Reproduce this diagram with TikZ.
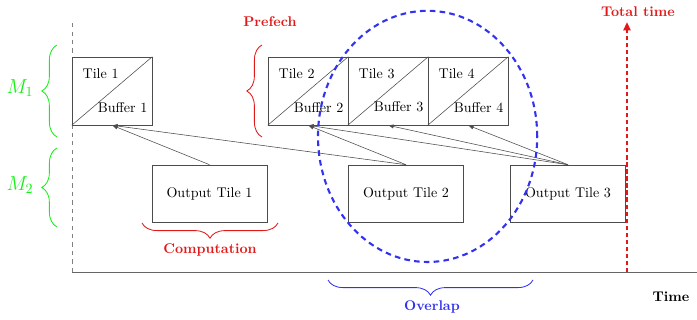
\documentclass[tikz,border=0pt]{standalone}
\usepackage{amsmath, amssymb}
\usetikzlibrary{decorations.pathreplacing, arrows.meta}

\definecolor{memgreen}{RGB}{20,240,20}
\definecolor{timered}{RGB}{225,25,25}
\definecolor{overblue}{RGB}{50,50,240}

\begin{document}
\begin{tikzpicture}
            [tile/.style={draw=black!70,rectangle,minimum width=2cm,minimum height=1.7cm,inner sep=0},
             outtile/.style={draw=black!70,rectangle,minimum width=2.875cm,minimum height=1.425cm},
             fetch/.style={-{Latex[length=4pt,width=3pt]}, black!70},
             brc/.style={decorate, decoration={brace,amplitude=0.38cm}, semithick},
             lbl/.style={font=\bfseries}]

            \useasboundingbox (0,0) rectangle (17.425,8);

            % axes
            \coordinate (orig) at (1.8,1.2);
            \coordinate (ytop) at (1.8,7.45);
            \coordinate (xend) at (17.425,1.2);
            \draw[black!50, dashed, semithick] (orig) -- (ytop);
            \draw[black!60] (orig) -- (xend);

            % input tiles
            \node[tile] (t1) at (2.8, 5.725) {};
            \node[tile] (t2) at (7.7, 5.725) {};
            \node[tile] (t3) at (9.7, 5.725) {};
            \node[tile] (t4) at (11.7, 5.725) {};

            \draw[black!70] (t1.south west) -- (t1.north east);
            \draw[black!70] (t2.south west) -- (t2.north east);
            \draw[black!70] (t3.south west) -- (t3.north east);
            \draw[black!70] (t4.south west) -- (t4.north east);

            \node[anchor=north west] (l1) at ([shift={(0.15,-0.175)}]t1.north west) {Tile 1};
            \node[anchor=north west] (l2) at ([shift={(0.15,-0.175)}]t2.north west) {Tile 2};
            \node[anchor=north west] (l3) at ([shift={(0.15,-0.175)}]t3.north west) {Tile 3};
            \node[anchor=north west] (l4) at ([shift={(0.15,-0.175)}]t4.north west) {Tile 4};

            \node[anchor=south east] (b1) at ([yshift=0.2cm]t1.south east) {Buffer 1};
            \node[anchor=south east] (b2) at ([yshift=0.2cm]t2.south east) {Buffer 2};
            \node[anchor=south east] (b3) at ([yshift=0.2cm]t3.south east) {Buffer 3};
            \node[anchor=south east] (b4) at ([yshift=0.2cm]t4.south east) {Buffer 4};

            % output tiles
            \node[outtile] (o1) at (5.2375, 3.1625) {Output Tile 1};
            \node[outtile] (o2) at (10.15, 3.1625) {Output Tile 2};
            \node[outtile] (o3) at (14.2, 3.1625) {Output Tile 3};

            \draw[fetch] (o1.north) -- (t1.south);
            \draw[fetch] (o2.north) -- (t1.south);
            \draw[fetch] (o2.north) -- (t2.south);
            \draw[fetch] (o3.north) -- (t2.south);
            \draw[fetch] (o3.north) -- (t3.south);
            \draw[fetch] (o3.north) -- (t4.south);

            % braces
            \draw[brc, memgreen] (1.425,4.575) -- (1.425,6.875);
            \draw[brc, memgreen] (1.425,2.325) -- (1.425,4.3);
            \node[memgreen, font=\Large] (m1) at (0.5,5.8) {$M_1$};
            \node[memgreen, font=\Large] (m2) at (0.5,3.375) {$M_2$};

            \draw[brc, timered] (6.55,4.575) -- (6.55,6.875);
            \node[lbl, timered] (pre) at (6.75,7.45) {Prefech};

            \draw[brc, timered] (6.95,2.425) -- (3.55,2.425);
            \node[lbl, timered] (comp) at (5.25,1.75) {Computation};

            \draw[brc, overblue] (13.325,1.0) -- (8.2,1.0);
            \node[lbl, overblue] (over) at (10.8,0.325) {Overlap};

            % overlap region
            \draw[overblue, line width=1.5pt, dash pattern=on 4pt off 3pt] (10.69,4.59) ellipse (2.74cm and 3.14cm);

            % total time
            \coordinate (tbot) at (15.675,1.2);
            \coordinate (ttop) at (15.675,7.45);
            \draw[timered, line width=2pt, dash pattern=on 3pt off 2pt, -{Triangle[length=6pt,width=5pt]}] (tbot) -- (ttop);
            \node[lbl, timered] (tot) at (15.95,7.7) {Total time};

            \node[lbl] (time) at (16.775,0.575) {Time};
          \end{tikzpicture}
\end{document}
